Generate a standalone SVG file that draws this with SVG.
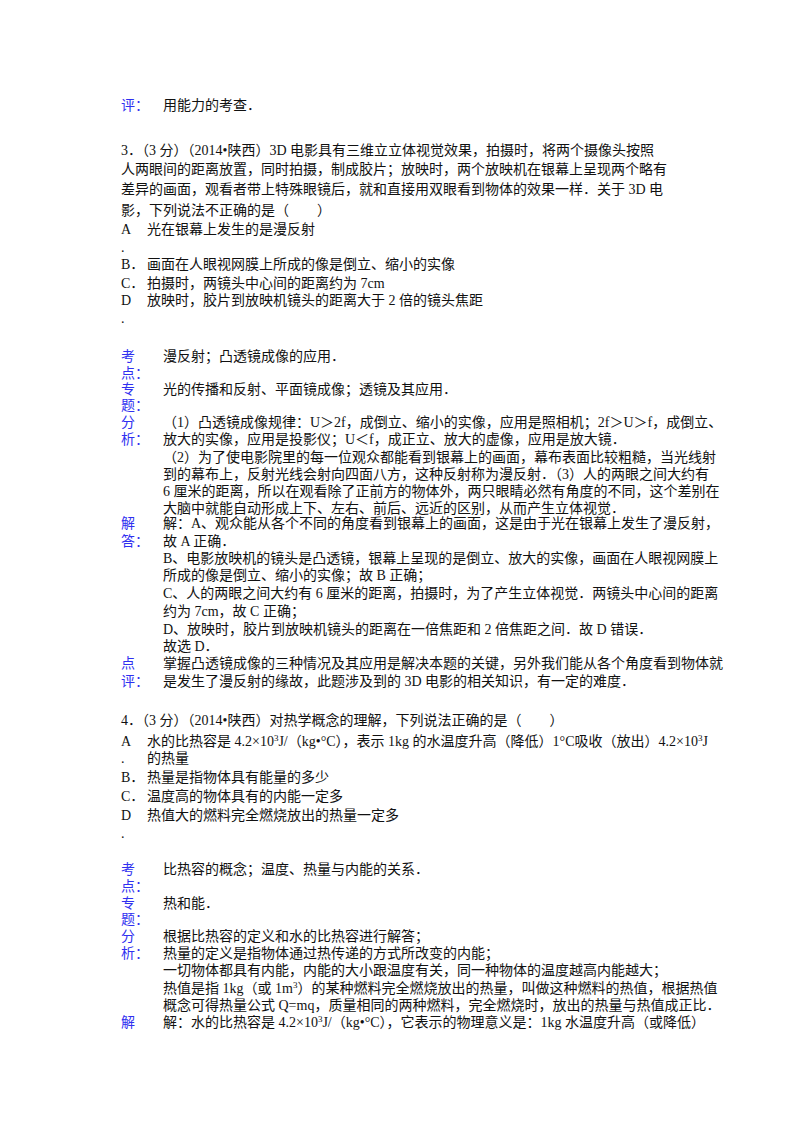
<svg xmlns="http://www.w3.org/2000/svg" width="800" height="1132" viewBox="0 0 800 1132">
<style>
text{font-family:"Liberation Serif","Noto Sans CJK SC",serif;font-size:14px;fill:#111}
.l{fill:#3030f0}
</style>
<rect width="800" height="1132" fill="#fff"/>
<g id="prev">
<text class="l" x="121" y="110">评：</text><text x="163" y="110">用能力的考查．</text>
</g>
<g id="q3">
<text x="121" y="155">3．（3 分）（2014•陕西）3D 电影具有三维立立体视觉效果，拍摄时，将两个摄像头按照</text>
<text x="121" y="174">人两眼间的距离放置，同时拍摄，制成胶片；放映时，两个放映机在银幕上呈现两个略有</text>
<text x="121" y="194">差异的画面，观看者带上特殊眼镜后，就和直接用双眼看到物体的效果一样．关于 3D 电</text>
<text x="121" y="215">影，下列说法不正确的是（　　）</text>
<text x="121" y="234">A</text><text x="147" y="234">光在银幕上发生的是漫反射</text>
<text x="121" y="252">.</text>
<text x="121" y="269">B．</text><text x="147" y="269">画面在人眼视网膜上所成的像是倒立、缩小的实像</text>
<text x="121" y="288">C．</text><text x="147" y="288">拍摄时，两镜头中心间的距离约为 7cm</text>
<text x="121" y="305">D</text><text x="147" y="305">放映时，胶片到放映机镜头的距离大于 2 倍的镜头焦距</text>
<text x="121" y="323">.</text>
</g>
<g id="q3ans">
<text class="l" x="121" y="361">考</text><text class="l" x="121" y="378">点：</text><text x="163" y="361">漫反射；凸透镜成像的应用．</text>
<text class="l" x="121" y="394">专</text><text class="l" x="121" y="410">题：</text><text x="163" y="394">光的传播和反射、平面镜成像；透镜及其应用．</text>
<text class="l" x="121" y="427">分</text><text class="l" x="121" y="444">析：</text>
<text x="163" y="427">（1）凸透镜成像规律：U＞2f，成倒立、缩小的实像，应用是照相机；2f＞U＞f，成倒立、</text>
<text x="163" y="444">放大的实像，应用是投影仪；U＜f，成正立、放大的虚像，应用是放大镜．</text>
<text x="163" y="462">（2）为了使电影院里的每一位观众都能看到银幕上的画面，幕布表面比较粗糙，当光线射</text>
<text x="163" y="479">到的幕布上，反射光线会射向四面八方，这种反射称为漫反射．（3）人的两眼之间大约有</text>
<text x="163" y="496">6 厘米的距离，所以在观看除了正前方的物体外，两只眼睛必然有角度的不同，这个差别在</text>
<text x="163" y="513">大脑中就能自动形成上下、左右、前后、远近的区别，从而产生立体视觉．</text>
<text class="l" x="121" y="528">解</text><text class="l" x="121" y="546">答：</text>
<text x="163" y="528">解：A、观众能从各个不同的角度看到银幕上的画面，这是由于光在银幕上发生了漫反射，</text>
<text x="163" y="546">故 A 正确．</text>
<text x="163" y="563">B、电影放映机的镜头是凸透镜，银幕上呈现的是倒立、放大的实像，画面在人眼视网膜上</text>
<text x="163" y="580">所成的像是倒立、缩小的实像；故 B 正确；</text>
<text x="163" y="598">C、人的两眼之间大约有 6 厘米的距离，拍摄时，为了产生立体视觉．两镜头中心间的距离</text>
<text x="163" y="616">约为 7cm，故 C 正确；</text>
<text x="163" y="634">D、放映时，胶片到放映机镜头的距离在一倍焦距和 2 倍焦距之间．故 D 错误．</text>
<text x="163" y="651">故选 D．</text>
<text class="l" x="121" y="668">点</text><text class="l" x="121" y="686">评：</text>
<text x="163" y="668">掌握凸透镜成像的三种情况及其应用是解决本题的关键，另外我们能从各个角度看到物体就</text>
<text x="163" y="686">是发生了漫反射的缘故，此题涉及到的 3D 电影的相关知识，有一定的难度．</text>
</g>
<g id="q4">
<text x="121" y="725">4．（3 分）（2014•陕西）对热学概念的理解，下列说法正确的是（　　）</text>
<text x="121" y="746">A</text><text x="147" y="746">水的比热容是 4.2×10<tspan dy="-5" font-size="9">3</tspan><tspan dy="5">J/（kg•°C），表示 1kg 的水温度升高（降低）1°C吸收（放出）4.2×10</tspan><tspan dy="-5" font-size="9">3</tspan><tspan dy="5">J</tspan></text>
<text x="121" y="763">.</text><text x="147" y="763">的热量</text>
<text x="121" y="782">B．</text><text x="147" y="782">热量是指物体具有能量的多少</text>
<text x="121" y="801">C．</text><text x="147" y="801">温度高的物体具有的内能一定多</text>
<text x="121" y="820">D</text><text x="147" y="820">热值大的燃料完全燃烧放出的热量一定多</text>
<text x="121" y="838">.</text>
</g>
<g id="q4ans">
<text class="l" x="121" y="874">考</text><text class="l" x="121" y="891">点：</text><text x="163" y="874">比热容的概念；温度、热量与内能的关系．</text>
<text class="l" x="121" y="908">专</text><text class="l" x="121" y="924">题：</text><text x="163" y="908">热和能．</text>
<text class="l" x="121" y="941">分</text><text class="l" x="121" y="958">析：</text>
<text x="163" y="941">根据比热容的定义和水的比热容进行解答；</text>
<text x="163" y="958">热量的定义是指物体通过热传递的方式所改变的内能；</text>
<text x="163" y="975">一切物体都具有内能，内能的大小跟温度有关，同一种物体的温度越高内能越大；</text>
<text x="163" y="993">热值是指 1kg（或 1m<tspan dy="-5" font-size="9">3</tspan><tspan dy="5">）的某种燃料完全燃烧放出的热量，叫做这种燃料的热值，根据热值</tspan></text>
<text x="163" y="1010">概念可得热量公式 Q=mq，质量相同的两种燃料，完全燃烧时，放出的热量与热值成正比．</text>
<text class="l" x="121" y="1027">解</text>
<text x="163" y="1027">解：水的比热容是 4.2×10<tspan dy="-5" font-size="9">3</tspan><tspan dy="5">J/（kg•°C），它表示的物理意义是：1kg 水温度升高（或降低）</tspan></text>
</g>
</svg>
